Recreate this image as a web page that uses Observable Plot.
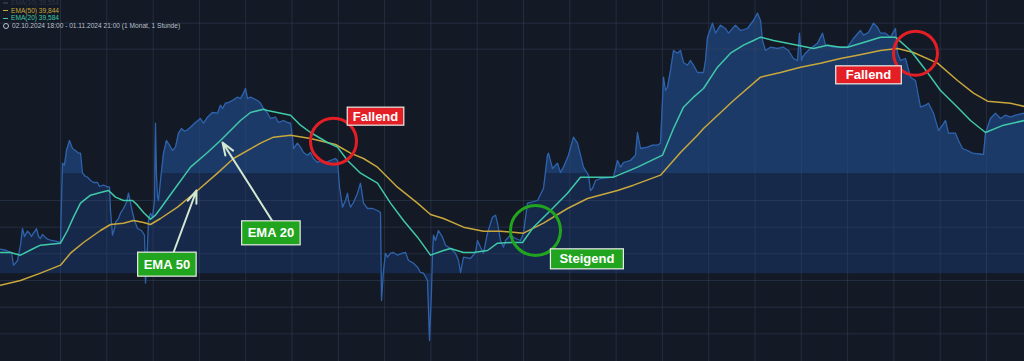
<!DOCTYPE html>
<html><head><meta charset="utf-8">
<script src="https://cdn.jsdelivr.net/npm/d3@7"></script>
<script src="https://cdn.jsdelivr.net/npm/@observablehq/plot@0.6"></script>
<style>
html,body{margin:0;padding:0;background:#131925;}
#wrap{position:relative;width:1024px;height:361px;overflow:hidden;background:#131925}
#legend{position:absolute;left:3px;top:-1px;font:6.6px "Liberation Sans",Arial,sans-serif;line-height:7.7px;white-space:nowrap}
#legend .row{display:flex;align-items:center;gap:3px}
#legend .dash{display:inline-block;width:5px;height:1.5px}
#legend .clock{display:inline-block;width:4px;height:4px;border:1px solid #b9c0cc;border-radius:50%}
</style></head><body><div id="wrap"><div id="legend"></div></div>
<script>
// ---- data (x = bar index, y = price) ----
const priceBars = [[0,37.67],[1.5,37.65],[2.75,37.62],[3.25,37.43],[3.75,37.46],[4.25,37.50],[5,37.73],[5.5,37.98],[6,37.86],[6.75,37.94],[7.25,37.91],[7.75,37.86],[8.25,37.91],[8.75,37.95],[9,37.98],[9.5,37.86],[10,37.83],[10.5,37.89],[11,37.86],[11.75,37.82],[12.75,37.80],[13.75,37.79],[15,37.77],[15.25,38.40],[15.5,38.96],[16,38.93],[16.5,39.15],[17.25,39.30],[18,39.18],[18.75,39.15],[19.5,39.11],[20,39.11],[20.5,38.81],[21.25,38.76],[21.75,38.75],[22.5,38.70],[23.25,38.67],[24.25,38.67],[24.75,38.61],[25.75,38.63],[26.5,38.61],[27.25,38.60],[27.5,38.25],[28,37.88],[28.5,37.98],[28.75,38.07],[29.5,38.13],[30,38.21],[30.75,38.28],[31.5,38.37],[32,38.51],[32.5,38.36],[33,38.22],[33.5,38.10],[34.25,37.98],[35.25,37.95],[36,37.88],[36.25,37.16],[36.75,37.73],[37,38.10],[37.5,38.21],[38,38.15],[38.5,38.40],[38.75,39.56],[39,38.78],[39.25,38.45],[39.5,38.40],[40,38.70],[40.75,39.11],[41.5,39.30],[42.25,39.23],[43,39.15],[43.75,39.20],[44.5,39.41],[45.25,39.48],[46,39.44],[46.5,39.45],[47.5,39.50],[48.75,39.57],[50,39.63],[50.75,39.56],[51.75,39.65],[53,39.72],[54.25,39.71],[55,39.83],[55.5,39.78],[56.25,39.86],[57,39.87],[58,39.90],[58.75,39.93],[59.25,39.95],[60,39.93],[60.75,40.01],[61.25,40.08],[61.75,39.93],[62.5,39.95],[63.25,39.93],[64.25,39.90],[65,39.86],[65.75,39.78],[66.75,39.71],[67.5,39.63],[68.75,39.65],[69.5,39.57],[70.75,39.60],[71.75,39.57],[72.5,39.56],[73,39.35],[73.25,39.18],[74.25,39.26],[75,39.20],[75.75,39.12],[76.75,39.08],[77.5,39.12],[78.25,39.03],[79.25,38.97],[80,39.00],[81.25,38.97],[82.5,39.00],[83.75,39.03],[84.25,39.00],[84.75,38.60],[85.5,38.30],[86.25,38.40],[86.75,38.51],[87,38.40],[87.5,38.30],[88.25,38.37],[89.25,38.51],[90,38.66],[90.75,38.36],[91.75,38.28],[93,38.28],[94.25,38.25],[95,38.22],[95.25,36.90],[95.75,37.35],[96.25,37.61],[96.75,37.55],[97.5,37.61],[98.25,37.62],[99.25,37.58],[100.5,37.61],[101.25,37.62],[102,37.50],[103.25,37.46],[104.25,37.40],[105,37.32],[105.75,37.31],[106.75,37.20],[107.25,36.30],[107.75,37.05],[108,37.61],[108.25,37.88],[108.75,37.80],[109.5,37.95],[110.5,37.85],[111.25,37.73],[112.5,37.68],[113.75,37.61],[114.5,37.50],[115,37.32],[115.75,37.55],[117.5,37.53],[118.75,37.62],[119.25,37.80],[120,37.70],[120.75,37.61],[121.75,37.91],[123,38.15],[123.75,38.18],[124.25,38.06],[125,37.80],[125.75,37.70],[126.25,37.80],[127.5,37.88],[128.75,37.83],[130,37.80],[130.75,37.91],[131.75,38.36],[132.5,38.37],[134.25,38.40],[135.75,38.58],[136.75,39.08],[137,39.11],[138,38.88],[139.25,38.96],[140,38.82],[140.75,38.90],[142,39.08],[143.25,39.35],[144.25,39.26],[145.75,38.90],[147,38.78],[147.5,38.55],[148,38.58],[148.75,38.70],[150,38.73],[153.25,38.75],[154.25,39.00],[155,38.90],[155.75,38.97],[157.5,39.00],[158.75,39.08],[159.25,39.42],[160,39.18],[161.75,39.20],[163,39.23],[164.25,39.23],[165,39.26],[165.5,39.90],[165.75,40.25],[166.25,40.05],[166.75,40.10],[167.5,40.35],[168.25,40.65],[169.25,40.61],[170,40.65],[170.75,40.47],[171.75,40.43],[172.5,40.50],[173.25,40.43],[174.25,40.32],[175.75,40.32],[176.25,40.50],[176.75,40.85],[178,41.06],[178.75,40.91],[180,41.03],[181.25,40.98],[182,40.91],[183.75,41.03],[185,40.95],[186.75,40.98],[188.25,41.10],[189.25,41.21],[190,41.10],[190.5,40.80],[191.25,40.65],[192.5,40.70],[194.25,40.68],[195.75,40.70],[197,40.65],[198.25,40.53],[199.25,40.50],[199.75,40.91],[200.25,40.50],[200.5,40.55],[201.25,40.61],[202.5,40.68],[204.25,40.76],[205.5,40.91],[206.25,40.73],[208.25,40.70],[210,40.70],[211.75,40.70],[213.25,40.83],[215,40.95],[215.75,40.88],[217,40.92],[218.25,41.06],[219.25,41.00],[220,40.91],[221.25,40.91],[222.5,40.85],[223.75,40.98],[224.25,40.61],[225,40.50],[226.25,40.53],[227.5,40.25],[228.75,40.20],[230,39.80],[231.25,39.83],[232,39.86],[233.25,39.71],[234.5,39.45],[235.5,39.53],[236.25,39.60],[237,39.41],[238.75,39.41],[239.5,39.30],[240.5,39.18],[241.75,39.15],[243,39.11],[245.75,39.09],[246.25,39.41],[247.5,39.63],[248.75,39.71],[250,39.63],[251.25,39.68],[252.5,39.65],[253.75,39.68],[256,39.71]];

const ema20Bars = [[0,37.62],[2.5,37.62],[5,37.58],[8.25,37.68],[10,37.73],[15,37.76],[16.75,37.95],[18.25,38.15],[20,38.36],[22.5,38.48],[25,38.52],[27,38.55],[28.75,38.45],[30.75,38.40],[33,38.40],[34.25,38.33],[35.75,38.22],[37.5,38.12],[38.75,38.18],[40,38.28],[43.25,38.55],[47.5,38.90],[51.75,39.12],[55,39.30],[60,39.60],[62.5,39.72],[65.75,39.77],[66.75,39.75],[72.5,39.68],[75,39.53],[77.5,39.42],[81.75,39.27],[84.25,39.20],[86.75,39.00],[90,38.81],[94.25,38.66],[97.5,38.36],[100.75,38.10],[104.25,37.85],[107.5,37.58],[110.75,37.65],[112.5,37.68],[115.75,37.62],[118.25,37.62],[121.75,37.65],[124.25,37.76],[127.5,37.77],[130.5,37.77],[133.25,38.00],[137.5,38.25],[141.75,38.51],[145,38.75],[147.5,38.75],[153.25,38.75],[159.25,38.90],[165.5,39.08],[168.25,39.48],[170.75,39.80],[173.25,39.95],[175.75,40.08],[179.25,40.40],[182.5,40.61],[185.75,40.73],[188.25,40.80],[190,40.85],[193.25,40.80],[196.75,40.76],[199.25,40.73],[203.25,40.68],[206.75,40.73],[210,40.70],[211.75,40.70],[215.75,40.77],[220,40.85],[223.75,40.85],[227.5,40.65],[230.75,40.40],[235,40.05],[239.25,39.80],[242.5,39.60],[246.25,39.42],[250.75,39.53],[256,39.60]];

const ema50Bars = [[0,37.13],[5,37.20],[10,37.31],[15,37.43],[17.5,37.61],[20.75,37.77],[25,37.95],[27.5,38.04],[30.75,38.06],[33.25,38.10],[35.75,38.07],[37.5,38.04],[40,38.13],[44.25,38.30],[49.25,38.55],[54.25,38.81],[58.25,39.03],[63.25,39.20],[65,39.26],[68.25,39.35],[72.5,39.38],[77.5,39.33],[83.75,39.24],[87.5,39.11],[90.75,39.03],[94.25,38.90],[99.25,38.60],[104.25,38.36],[107.5,38.19],[110.75,38.13],[115.75,38.00],[120.75,37.94],[125,37.94],[130.75,37.91],[135.75,38.06],[141.75,38.28],[146.75,38.43],[154.25,38.55],[158.25,38.63],[165,38.78],[170,39.12],[174.25,39.38],[175.75,39.48],[183.25,39.90],[190,40.25],[195,40.32],[200,40.40],[205,40.46],[210,40.53],[214.25,40.58],[220,40.65],[224.25,40.68],[228.25,40.62],[234.25,40.46],[239.25,40.20],[243.25,40.01],[246.75,39.89],[252.5,39.86],[256,39.81]];

const baselinePrice = 37.3;
const bandPrice = 38.8;
const gridPrices = [36.4, 36.8, 37.2, 37.6, 38.0, 38.4, 40.67, 41.06];
const firstDayBar = 15, barsPerDay = 11.575;

const crossT = [83.25, 133.75, 228.75];
const crossV = [39.29, 37.95, 40.61];
const crossKind = ["down", "up", "down"];

const labelText = ["Fallend", "Fallend", "Steigend", "EMA 50", "EMA 20"];
const labelT = [93.75, 217, 146.6, 41.6, 67.6];
const labelV = [39.66, 40.28, 37.52, 37.44, 37.91];
const labelKind = ["down", "down", "up", "up", "up"];

const arrowFromT = [43.25, 68], arrowFromV = [37.62, 38.09];
const arrowToT = [49, 55.5], arrowToV = [38.55, 39.27];

const legendRows = [
  {text: "EMA(10)  39,554", color: "#2c3546"},
  {text: "EMA(50)  39,844", color: "#c8a73c"},
  {text: "EMA(20)  39,584", color: "#40c9a9"},
  {text: "02.10.2024 18:00 - 01.11.2024 21:00   (1 Monat, 1 Stunde)", color: "#b9c0cc", clock: true}
];

// ---- styles ----
const kindColor = {down: "#e41e25", up: "#21a51f"};
const circleR = [23, 25, 22];
const labelPad = [[5.5, 1.5], [10, 1.5], [9, 2.5], [6, 4.5], [6, 4.5]];

const price = priceBars.map(([t, v]) => ({t, v}));
const ema20 = ema20Bars.map(([t, v]) => ({t, v}));
const ema50 = ema50Bars.map(([t, v]) => ({t, v}));
const labels = labelText.map((s, i) => ({s, t: labelT[i], v: labelV[i], kind: labelKind[i], i}));
const arrows = arrowFromT.map((_, i) => ({x1: arrowFromT[i], y1: arrowFromV[i], x2: arrowToT[i], y2: arrowToV[i]}));
const gridT = d3.range(firstDayBar, 256, barsPerDay);

const plot = Plot.plot({
  width: 1024, height: 361, margin: 0,
  x: {domain: [0, 256], axis: null},
  y: {domain: [35.985, 41.4], axis: null},
  style: {background: "transparent", overflow: "visible"},
  marks: [
    Plot.areaY(price, {x: "t", y1: baselinePrice, y2: "v", fill: "url(#priceFill)"}),
    Plot.ruleX(gridT, {stroke: "#3b4c69", strokeOpacity: 0.4, strokeWidth: 1}),
    Plot.ruleY(gridPrices, {stroke: "#3b4c69", strokeOpacity: 0.4, strokeWidth: 1}),
    Plot.lineY(price, {x: "t", y: "v", stroke: "#2e62ab", strokeWidth: 1.3}),
    Plot.lineY(ema50, {x: "t", y: "v", stroke: "#c8a73c", strokeWidth: 1.5}),
    Plot.lineY(ema20, {x: "t", y: "v", stroke: "#40c9a9", strokeWidth: 1.5}),
    ...crossT.map((t, i) => Plot.dot([{t, v: crossV[i]}], {x: "t", y: "v", r: circleR[i], stroke: kindColor[crossKind[i]], strokeWidth: 3, fill: "none"})),
    Plot.arrow(arrows, {x1: "x1", y1: "y1", x2: "x2", y2: "y2", stroke: "#d3e8d0", strokeWidth: 2, headLength: 10, headAngle: 40}),
    Plot.text(labels, {x: "t", y: "v", text: "s", fill: "white", fontSize: 13, fontWeight: "bold", fontFamily: "Liberation Sans, Arial, sans-serif", className: "lbl"})
  ]
});

document.getElementById("wrap").prepend(plot);

// gradient for the price area, positioned through the y scale
const ys = plot.scale("y");
const y0 = ys.apply(41.4), yb = ys.apply(baselinePrice), yBand = ys.apply(bandPrice);
const frac = (yBand - y0) / (yb - y0);
const svg = d3.select(plot);
const defs = svg.insert("defs", ":first-child");
const grad = defs.append("linearGradient").attr("id", "priceFill")
  .attr("gradientUnits", "userSpaceOnUse").attr("x1", 0).attr("x2", 0).attr("y1", y0).attr("y2", yb);
grad.append("stop").attr("offset", 0).attr("stop-color", "#1c3a68");
grad.append("stop").attr("offset", frac).attr("stop-color", "#1c3a68");
grad.append("stop").attr("offset", frac).attr("stop-color", "#16294a");
grad.append("stop").attr("offset", 1).attr("stop-color", "#16294a");

// label boxes sized from the rendered text
svg.selectAll("g.lbl text").each(function(d, j) {
  const lab = labels[j];
  const bb = this.getBBox();
  const [px, py] = labelPad[lab.i];
  const r = document.createElementNS("http://www.w3.org/2000/svg", "rect");
  r.setAttribute("x", bb.x - px);
  r.setAttribute("y", bb.y - py);
  r.setAttribute("width", bb.width + 2 * px);
  r.setAttribute("height", bb.height + 2 * py);
  r.setAttribute("fill", kindColor[lab.kind]);
  r.setAttribute("stroke", "#e9ece9");
  r.setAttribute("stroke-width", 1.2);
  const tr = this.getAttribute("transform");
  if (tr) r.setAttribute("transform", tr);
  this.parentNode.insertBefore(r, this);
});

// legend overlay
const leg = d3.select("#legend");
legendRows.forEach(row => {
  const div = leg.append("div").attr("class", "row").style("color", row.color);
  if (row.clock) div.append("span").attr("class", "clock");
  else div.append("span").attr("class", "dash").style("background", row.color);
  div.append("span").text(row.text);
});
</script>
</body></html>
